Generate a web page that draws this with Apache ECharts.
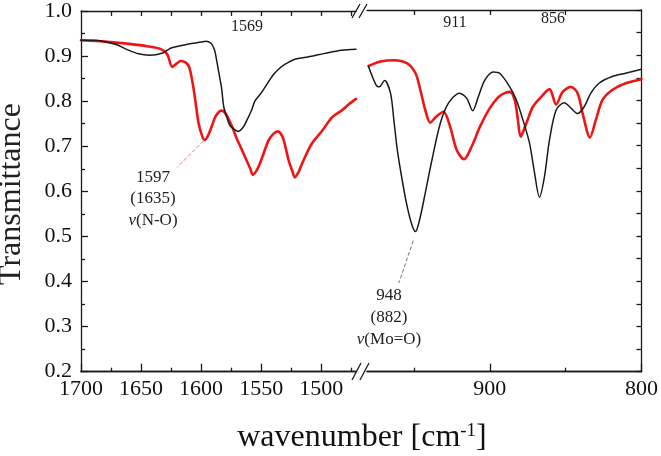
<!DOCTYPE html>
<html>
<head>
<meta charset="utf-8">
<script src="https://cdn.jsdelivr.net/npm/echarts@6/dist/echarts.min.js"></script>
<style>
html, body { margin: 0; padding: 0; background: #fff; }
#chart { width: 661px; height: 456px; }
</style>
</head>
<body>
<div id="chart"></div>
<script>
// spectra: [wavenumber, transmittance]
const blackLeft = [
    [1700, 0.935], [1690, 0.935], [1680, 0.932], [1670, 0.925], [1662, 0.915],
    [1652, 0.905], [1643, 0.902], [1632, 0.907], [1625, 0.918], [1617, 0.923],
    [1608, 0.928], [1600, 0.931], [1596, 0.933], [1592, 0.929], [1589, 0.915],
    [1587, 0.89], [1585, 0.86], [1583, 0.83], [1581, 0.786], [1578, 0.76],
    [1576, 0.746], [1572, 0.737], [1569, 0.733], [1565, 0.742], [1562, 0.757],
    [1558, 0.78], [1555, 0.801], [1550, 0.818], [1547, 0.83], [1540, 0.858],
    [1535, 0.872], [1530, 0.882], [1522, 0.893], [1511, 0.898], [1497, 0.906],
    [1483, 0.913], [1471, 0.915]
];
const redLeft = [
    [1700, 0.935], [1680, 0.932], [1660, 0.927], [1645, 0.922], [1633, 0.915],
    [1628, 0.903], [1624, 0.876], [1620, 0.884], [1617, 0.889], [1613, 0.886],
    [1610, 0.876], [1607, 0.84], [1605, 0.805], [1602, 0.75], [1599, 0.722],
    [1597, 0.714], [1594, 0.725], [1591, 0.745], [1588, 0.766], [1583, 0.779],
    [1579, 0.77], [1574, 0.742], [1570, 0.715], [1567, 0.698], [1562, 0.668],
    [1559, 0.65], [1557, 0.637], [1553, 0.65], [1549, 0.676], [1544, 0.712],
    [1540, 0.727], [1536, 0.733], [1533, 0.725], [1531, 0.712], [1527, 0.668],
    [1524, 0.645], [1522, 0.631], [1519, 0.642], [1516, 0.661], [1508, 0.705],
    [1499, 0.735], [1491, 0.764], [1483, 0.779], [1477, 0.793], [1471, 0.805]
];
const blackRight = [
    [980, 0.875], [975, 0.834], [973, 0.83], [969.4, 0.844], [965.5, 0.816],
    [963.3, 0.757], [961, 0.69], [957.8, 0.624], [954.5, 0.565], [951.3, 0.524],
    [949, 0.51], [946.3, 0.536], [942.6, 0.595], [938.2, 0.668], [932.7, 0.749],
    [927.3, 0.794], [920, 0.816], [915.3, 0.805], [911.3, 0.777], [907.6, 0.808],
    [903.3, 0.845], [897.8, 0.863], [893.5, 0.86], [886.9, 0.83], [882.5, 0.801],
    [878.2, 0.757], [873.8, 0.705], [870.5, 0.639], [867.3, 0.586], [864, 0.631],
    [860.7, 0.712], [856.3, 0.779], [850.9, 0.795], [846.5, 0.783], [842.1, 0.771],
    [837.8, 0.786], [833.4, 0.816], [828, 0.838], [819.3, 0.853], [810.5, 0.86],
    [800, 0.869]
];
const redRight = [
    [980, 0.876], [972, 0.886], [963.3, 0.889], [954.5, 0.882], [949, 0.86],
    [945.8, 0.823], [942.6, 0.779], [939.3, 0.751], [935.4, 0.764], [930.6, 0.775],
    [926.2, 0.742], [921.8, 0.69], [917, 0.67], [912, 0.698], [906.5, 0.742],
    [900, 0.783], [893.5, 0.81], [886.9, 0.819], [883.6, 0.801], [881.5, 0.757],
    [879.7, 0.72], [876, 0.749], [871.6, 0.786], [866.1, 0.808], [860.7, 0.825],
    [856.3, 0.791], [852, 0.819], [846.5, 0.83], [842.1, 0.816], [838.8, 0.771],
    [834, 0.718], [830.1, 0.757], [825.7, 0.801], [819.3, 0.823], [810.5, 0.838],
    [800, 0.847]
];

// ticks
const leftMajor = [1700, 1650, 1600, 1550, 1500];
const leftMinor = [1675, 1625, 1575, 1525, 1475];
const leftTop = [1675, 1650, 1625, 1600, 1575, 1550, 1525, 1500, 1475];
const rightMajor = [900, 800];
const rightMinor = [950, 850];
const rightTop = [950, 900, 850];

// leader lines to the annotated bands
const noLeader = [[1598, 0.712], [1620, 0.653]];
const moLeader = [[950.5, 0.49], [960, 0.396]];

const FONT = 'Liberation Serif';
const INK = '#1a1a1a';
const RED = '#f01414';

let myChart = echarts.init(document.getElementById('chart'));

function xAx(grid, pos, min, max, ticks, len, labels) {
    return {
        type: 'value', gridIndex: grid, position: pos, inverse: true,
        min: min, max: max,
        axisLine: { show: true, onZero: false, lineStyle: { color: INK, width: 1.3 } },
        axisTick: { show: true, inside: true, length: len, customValues: ticks,
            lineStyle: { color: INK, width: 1.3 } },
        axisLabel: labels ? {
            show: true, customValues: labels, margin: 7,
            fontFamily: FONT, fontSize: 22, color: '#111',
            formatter: v => String(v)
        } : { show: false },
        splitLine: { show: false }
    };
}

function yAx(grid, pos, labels) {
    return {
        type: 'value', gridIndex: grid, position: pos,
        min: 0.2, max: 1.0, interval: 0.1,
        axisLine: { show: true, lineStyle: { color: INK, width: 1.3 } },
        axisTick: { show: true, inside: true, length: labels ? 7 : 5,
            lineStyle: { color: INK, width: 1.3 } },
        minorTick: { show: true, splitNumber: 2, length: labels ? 4 : 5,
            lineStyle: { color: INK, width: 1.3 } },
        axisLabel: labels ? {
            show: true, margin: 9, fontFamily: FONT, fontSize: 22, color: '#111',
            formatter: v => v.toFixed(1)
        } : { show: false },
        splitLine: { show: false },
        minorSplitLine: { show: false }
    };
}

function line(data, xi, yi, color, width) {
    return {
        type: 'line', xAxisIndex: xi, yAxisIndex: yi, data: data,
        showSymbol: false, smooth: 0.3,
        lineStyle: { color: color, width: width, join: 'round', cap: 'round' },
        z: color === RED ? 2 : 3
    };
}

function leader(pts, color) {
    return {
        symbol: 'none', silent: true, animation: false,
        label: { show: false },
        lineStyle: { type: 'dashed', color: color, width: 1 },
        data: [[{ coord: pts[0] }, { coord: pts[1] }]]
    };
}

let txt = (x, y, text, size, extra) => ({
    type: 'text', x: x, y: y, silent: true,
    style: Object.assign({
        text: text, fontFamily: FONT, fontSize: size, fill: '#222',
        align: 'center', verticalAlign: 'middle'
    }, extra || {})
});

let brk = (x1, y1, x2, y2) => ({
    type: 'line', silent: true,
    shape: { x1: x1, y1: y1, x2: x2, y2: y2 },
    style: { stroke: INK, lineWidth: 1.3 }
});

let seriesRedLeft = line(redLeft, 0, 0, RED, 2.6);
seriesRedLeft.markLine = leader(noLeader, '#f07070');
let seriesBlackRight = line(blackRight, 3, 1, INK, 1.5);
seriesBlackRight.markLine = leader(moLeader, '#777');

let option = {
    animation: false,
    backgroundColor: '#fff',
    grid: [
        { left: 81, top: 10, width: 275, height: 361.7 },
        { left: 367, top: 10, width: 276, height: 361.7 }
    ],
    xAxis: [
        xAx(0, 'bottom', 1471, 1700, leftMajor, 8, leftMajor),
        xAx(0, 'bottom', 1471, 1700, leftMinor, 4, null),
        xAx(0, 'top', 1471, 1700, leftTop, 5, null),
        xAx(1, 'bottom', 800, 981, rightMajor, 8, rightMajor),
        xAx(1, 'bottom', 800, 981, rightMinor, 4, null),
        xAx(1, 'top', 800, 981, rightTop, 5, null)
    ],
    yAxis: [
        yAx(0, 'left', true),
        yAx(1, 'right', false)
    ],
    series: [
        seriesRedLeft,
        line(blackLeft, 0, 0, INK, 1.5),
        line(redRight, 3, 1, RED, 2.6),
        seriesBlackRight
    ],
    graphic: [
        txt(12, 194, 'Transmittance', 32, {}),
        {
            type: 'text', x: 362, y: 438, silent: true,
            style: {
                text: '{a|wavenumber [cm}{s|-1}{a|]}',
                align: 'center', verticalAlign: 'middle',
                rich: {
                    a: { fontFamily: FONT, fontSize: 32, fill: '#111' },
                    s: { fontFamily: FONT, fontSize: 19, fill: '#111', verticalAlign: 'top', padding: [0, 0, 14, 0] }
                }
            }
        },
        txt(247, 27, '1569', 16),
        txt(455, 23, '911', 16),
        txt(553, 19, '856', 16),
        {
            type: 'text', x: 153, y: 199, silent: true,
            style: {
                text: '1597\n(1635)\n{i|ν}(N-O)',
                fontFamily: FONT, fontSize: 17, fill: '#222', lineHeight: 21.5,
                align: 'center', verticalAlign: 'middle',
                rich: { i: { fontFamily: FONT, fontSize: 17, fontStyle: 'italic', fill: '#222' } }
            }
        },
        {
            type: 'text', x: 389, y: 318, silent: true,
            style: {
                text: '948\n(882)\n{i|ν}(Mo=O)',
                fontFamily: FONT, fontSize: 17, fill: '#222', lineHeight: 22,
                align: 'center', verticalAlign: 'middle',
                rich: { i: { fontFamily: FONT, fontSize: 17, fontStyle: 'italic', fill: '#222' } }
            }
        },
        brk(352, 18, 360, 4),
        brk(359, 18, 367, 4),
        brk(352, 380, 361, 363),
        brk(360, 380, 369, 363)
    ]
};

// rotate the y title
option.graphic[0].rotation = Math.PI / 2;

myChart.setOption(option);
</script>
</body>
</html>
